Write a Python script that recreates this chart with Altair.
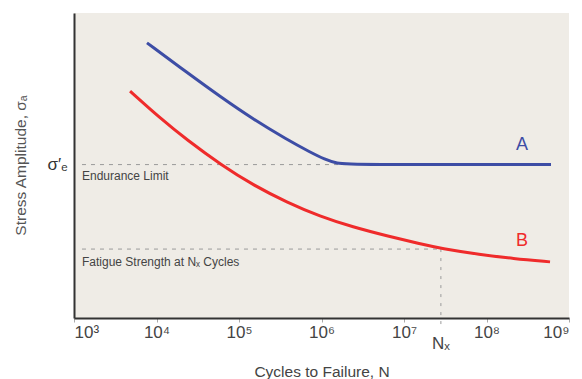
import altair as alt
import pandas as pd

# Curve A (blue): cycles to failure and stress amplitude (arbitrary units)
blue_N = [7670, 23400, 58900, 147900, 381900, 726000, 1.10e6, 1.54e6, 2.21e6, 6.05e8]
blue_S = [90.2, 80.5, 72.6, 65.2, 58.5, 54.4, 52.0, 50.7, 50.3, 50.3]

# Curve B (red)
red_N = [4780, 11000, 23400, 62200, 147900, 381900, 959000, 2.41e6, 6.22e6,
         1.56e7, 2.81e7, 8.34e7, 2.09e8, 5.89e8]
red_S = [74.4, 65.6, 58.4, 50.0, 43.6, 37.9, 33.3, 29.8, 26.9, 24.3, 22.8,
         20.8, 19.5, 18.4]

endurance_S = 50.3
fatigue_S = 22.6
Nx = 2.8e7
knee_N = 2.0e6
x_ticks = [1e3, 1e4, 1e5, 1e6, 1e7, 1e8, 1e9]

BLUE = "#3D4DA5"
RED = "#EF2B2B"
FONT = "Liberation Sans"

x_axis = alt.Axis(
    values=x_ticks,
    labelExpr="'10' + ['³','⁴','⁵','⁶','⁷','⁸','⁹'][round(log(datum.value)/LN10) - 3]",
    grid=False, domainColor="#333", domainWidth=2, tickColor="#aaa", tickSize=4,
    labelFontSize=17, labelColor="#444", labelPadding=2, labelFont=FONT,
    title="Cycles to Failure, N", titleFontSize=15.5, titleFontWeight="normal",
    titleColor="#444", titleFont=FONT, titleY=53, titleBaseline="middle",
)
y_axis = alt.Axis(
    values=[endurance_S], labelExpr="'σ′ₑ'", ticks=False, grid=False,
    domainColor="#333", domainWidth=2, labelFontSize=17, labelColor="#333",
    labelPadding=7, labelFont=FONT,
    title="Stress Amplitude, σₐ", titleFontSize=15.5, titleFontWeight="normal",
    titleColor="#555", titleFont=FONT, titleX=-54, titleY=152,
    titleBaseline="middle", titleAlign="center",
)
x_scale = alt.Scale(type="log", domain=[1e3, 1e9], nice=False)
y_scale = alt.Scale(domain=[0, 100], nice=False, zero=False)


def X(field="N"):
    return alt.X(f"{field}:Q", scale=x_scale, axis=x_axis)


def Y(field="S"):
    return alt.Y(f"{field}:Q", scale=y_scale, axis=y_axis)


blue_df = pd.DataFrame({"N": blue_N, "S": blue_S})
red_df = pd.DataFrame({"N": red_N, "S": red_S})

blue_line = alt.Chart(blue_df).mark_line(
    color=BLUE, strokeWidth=3, interpolate="basis"
).encode(x=X(), y=Y())
red_line = alt.Chart(red_df).mark_line(
    color=RED, strokeWidth=3, interpolate="basis"
).encode(x=X(), y=Y())

hrules_df = pd.DataFrame({
    "N": [1250, 1250],
    "N2": [knee_N, Nx],
    "S": [endurance_S, fatigue_S],
})
hrules = alt.Chart(hrules_df).mark_rule(
    color="#9a9a9a", strokeWidth=1, strokeDash=[4, 5]
).encode(x=X(), x2="N2:Q", y=Y())

vrule_df = pd.DataFrame({"N": [Nx], "S": [fatigue_S], "S2": [-3.6]})
vrule = alt.Chart(vrule_df).mark_rule(
    color="#9a9a9a", strokeWidth=1, strokeDash=[3, 6]
).encode(x=X(), y=Y(), y2="S2:Q")

labels_df = pd.DataFrame({
    "N": [1250, 1250],
    "S": [46.6, 18.4],
    "t": ["Endurance Limit", "Fatigue Strength at Nₓ Cycles"],
})
labels = alt.Chart(labels_df).mark_text(
    align="left", baseline="middle", fontSize=12, color="#444", font=FONT
).encode(x=X(), y=Y(), text="t:N")

ab_df = pd.DataFrame({
    "N": [2.7e8, 2.7e8],
    "S": [56.7, 25.2],
    "t": ["A", "B"],
    "c": [BLUE, RED],
})
ab = alt.Chart(ab_df).mark_text(
    align="center", baseline="middle", fontSize=18, font=FONT
).encode(x=X(), y=Y(), text="t:N", color=alt.Color("c:N", scale=None))

nx_df = pd.DataFrame({"N": [Nx], "S": [-8.6], "t": ["Nₓ"]})
nx_label = alt.Chart(nx_df).mark_text(
    align="center", baseline="middle", fontSize=17, color="#444", font=FONT
).encode(x=X(), y=Y(), text="t:N")

chart = alt.layer(
    hrules, vrule, red_line, blue_line, labels, ab, nx_label
).properties(
    width=495, height=305,
    autosize=alt.AutoSizeParams(type="none"),
    padding={"left": 74, "top": 13, "right": 13, "bottom": 61},
    background="white",
).configure_view(
    fill="#EFECE6", strokeWidth=0
)

chart.save("out.html", embed_options={"renderer": "svg", "actions": False})
